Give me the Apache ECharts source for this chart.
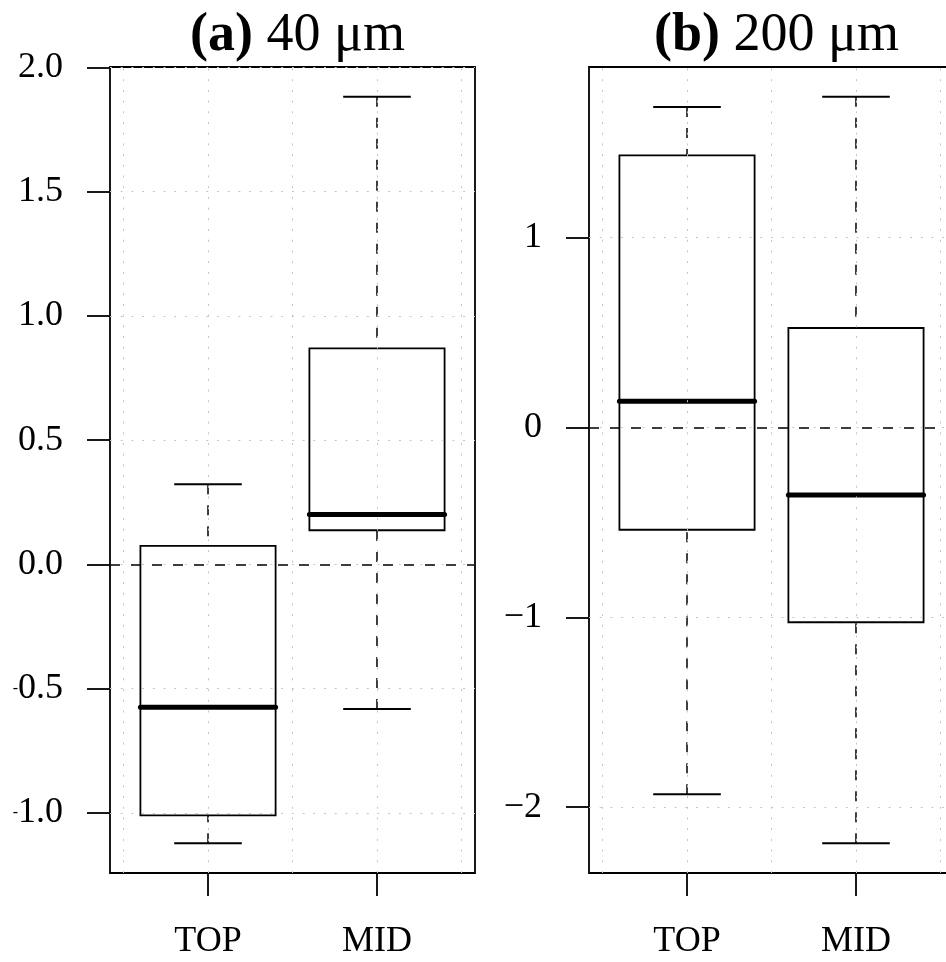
<!DOCTYPE html>
<html>
<head>
<meta charset="utf-8">
<script src="https://cdn.jsdelivr.net/npm/echarts@6/dist/echarts.min.js"></script>
<style>
  html, body { margin: 0; padding: 0; background: #fff; }
  #chart { width: 946px; height: 962px; }
</style>
</head>
<body>
<div id="chart"></div>
<script>
// Group names along the x axis
const categories = ['TOP', 'MID'];

// Panel (a): 40 μm — five-number summaries per group
const lowA  = [-1.122, -0.582];
const q1A   = [-1.010,  0.137];
const medA  = [-0.575,  0.200];
const q3A   = [ 0.074,  0.869];
const highA = [ 0.322,  1.881];
const yTicksA = [-1.0, -0.5, 0.0, 0.5, 1.0, 1.5, 2.0];

// Panel (b): 200 μm
const lowB  = [-1.932, -2.189];
const q1B   = [-0.539, -1.026];
const medB  = [ 0.137, -0.356];
const q3B   = [ 1.432,  0.523];
const highB = [ 1.687,  1.740];
const yTicksB = [-2, -1, 0, 1];

// Dotted reference grid positions along x
const xGridLines = [0.5, 1, 1.5, 2, 2.5];

const panelTitles = [['(a)', '40 μm'], ['(b)', '200 μm']];

const SERIF = '"Liberation Serif", "Times New Roman", serif';
const BOX_HALF = 0.4;      // half box width, in x units
const STAPLE_HALF = 0.2;   // half whisker-cap width
const DASH = [10, 11];

// R-style axis range: data range padded by 4% on each side
function padRange(lo, hi) {
  const d = (hi - lo) * 0.04;
  return [lo - d, hi + d];
}
const xRange = padRange(0.5, categories.length + 0.5);

const panels = [
  { low: lowA, q1: q1A, med: medA, q3: q3A, high: highA, ticks: yTicksA,
    fmt: v => { const s = Math.abs(v).toFixed(1); return v < 0 ? '{m|-}' + s : s; } },
  { low: lowB, q1: q1B, med: medB, q3: q3B, high: highB, ticks: yTicksB,
    fmt: v => (v < 0 ? '\u2212' : '') + Math.abs(v) }
];

const grids = [
  { left: 110, top: 67, width: 365, height: 806 },
  { left: 589, top: 67, width: 365, height: 806 }
];

function renderBox(params, api) {
  const x = api.value(0);
  const lo = api.value(1), q1 = api.value(2), md = api.value(3), q3 = api.value(4), hi = api.value(5);
  const pt = (dx, v) => api.coord([x + dx, v]);
  const seg = (a, b, style) => ({
    type: 'line',
    shape: { x1: a[0], y1: a[1], x2: b[0], y2: b[1] },
    style: style
  });
  const dashed = { stroke: '#000', lineWidth: 1.5, lineDash: DASH, fill: null };
  const solid = { stroke: '#000', lineWidth: 2, fill: null };
  const tl = pt(-BOX_HALF, q3), br = pt(BOX_HALF, q1);
  return {
    type: 'group',
    children: [
      seg(pt(0, hi), pt(0, q3), dashed),
      seg(pt(0, lo), pt(0, q1), dashed),
      seg(pt(-STAPLE_HALF, hi), pt(STAPLE_HALF, hi), solid),
      seg(pt(-STAPLE_HALF, lo), pt(STAPLE_HALF, lo), solid),
      {
        type: 'rect',
        shape: { x: tl[0], y: tl[1], width: br[0] - tl[0], height: br[1] - tl[1] },
        style: { fill: null, stroke: '#000', lineWidth: 1.8 }
      },
      seg(pt(-BOX_HALF, md), pt(BOX_HALF, md), { stroke: '#000', lineWidth: 5, lineCap: 'round', fill: null })
    ]
  };
}

const option = {
  animation: false,
  backgroundColor: '#fff',
  title: panelTitles.map((t, i) => ({
    text: '{b|' + t[0] + '} ' + t[1],
    left: grids[i].left + grids[i].width / 2,
    top: 4,
    textAlign: 'center',
    textStyle: {
      fontSize: 54, fontFamily: SERIF, fontWeight: 'normal', color: '#000',
      rich: { b: { fontSize: 54, fontFamily: SERIF, fontWeight: 'bold', color: '#000' } }
    }
  })),
  grid: grids.map(g => Object.assign({
    show: true, borderColor: '#000', borderWidth: 1.8,
    backgroundColor: 'transparent', containLabel: false, outerBoundsMode: 'none'
  }, g)),
  xAxis: grids.map((g, i) => ({
    type: 'value', gridIndex: i, min: xRange[0], max: xRange[1],
    axisLine: { show: false, onZero: false },
    splitLine: { show: false },
    axisTick: { show: true, customValues: categories.map((c, k) => k + 1), length: 23,
      lineStyle: { color: '#000', width: 1.8 } },
    axisLabel: { show: true, customValues: categories.map((c, k) => k + 1), margin: 51,
      formatter: v => categories[Math.round(v) - 1],
      color: '#000', fontSize: 36, fontFamily: SERIF }
  })),
  yAxis: panels.map((p, i) => {
    const all = p.low.concat(p.high);
    const r = padRange(Math.min(...all), Math.max(...all));
    return {
      type: 'value', gridIndex: i, min: r[0], max: r[1],
      axisLine: { show: false, onZero: false },
      splitLine: { show: false },
      axisTick: { show: true, customValues: p.ticks, length: 23,
        lineStyle: { color: '#000', width: 1.8 } },
      axisLabel: { show: true, customValues: p.ticks, margin: 47,
        formatter: p.fmt,
        color: '#000', fontSize: 36, fontFamily: SERIF,
        rich: { m: { fontSize: 16, fontFamily: SERIF, color: '#000' } } }
    };
  }),
  series: panels.flatMap((p, i) => [
    {
      // dotted light-grey reference grid
      type: 'line', xAxisIndex: i, yAxisIndex: i, data: [], z: 1, silent: true,
      markLine: {
        silent: true, symbol: ['none', 'none'], animation: false,
        label: { show: false },
        lineStyle: { color: '#c4c4c4', type: [2, 8.7], width: 1 },
        emphasis: { disabled: true },
        data: xGridLines.map(v => ({ xAxis: v })).concat(p.ticks.map(v => ({ yAxis: v })))
      }
    },
    {
      type: 'custom', xAxisIndex: i, yAxisIndex: i, z: 3, clip: false,
      renderItem: renderBox,
      encode: { x: 0, y: [1, 2, 3, 4, 5] },
      data: categories.map((c, k) => [k + 1, p.low[k], p.q1[k], p.med[k], p.q3[k], p.high[k]]),
      markLine: {
        silent: true, symbol: ['none', 'none'], animation: false,
        label: { show: false },
        lineStyle: { color: '#000', type: DASH, width: 1.5 },
        emphasis: { disabled: true },
        data: [{ yAxis: 0 }]
      }
    }
  ])
};

const chart = echarts.init(document.getElementById('chart'), null, { renderer: 'canvas' });
chart.setOption(option);
</script>
</body>
</html>
